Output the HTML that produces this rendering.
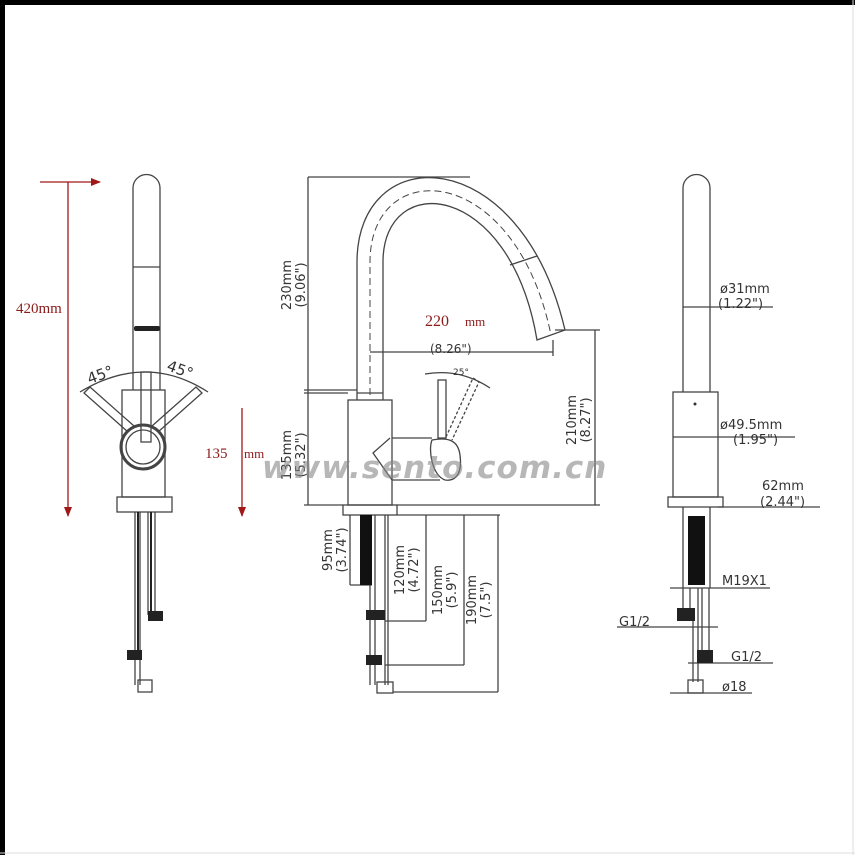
<!DOCTYPE html>
<html><head><meta charset="utf-8"><style>
html,body{margin:0;padding:0;background:#fff;}
svg{display:block;}
text{font-family:"DejaVu Sans","Liberation Sans",sans-serif;fill:#333;}
.r{font-family:"Liberation Serif",serif;fill:#8b1a1a;}
</style></head><body>
<svg width="855" height="855" viewBox="0 0 855 855" xmlns="http://www.w3.org/2000/svg">
<defs>
<marker id="ra" markerWidth="10" markerHeight="8" refX="9" refY="4" orient="auto" markerUnits="userSpaceOnUse"><path d="M0,0 L10,4 L0,8 Z" fill="#a01818"/></marker>
</defs>
<rect width="855" height="855" fill="#fff"/>
<rect x="0" y="0" width="855" height="5" fill="#000"/>
<rect x="0" y="0" width="5" height="855" fill="#000"/>
<line x1="853" y1="0" x2="853" y2="855" stroke="#ddd"/>
<line x1="0" y1="853" x2="855" y2="853" stroke="#ddd"/>

<g fill="none" stroke="#444" stroke-width="1.3">
<!-- LEFT VIEW -->
<path d="M133,390 V188 A13.5,13.5 0 0 1 160,188 V390"/>
<line x1="133" y1="267" x2="160" y2="267"/>
<rect x="122" y="390" width="43" height="107"/>
<rect x="117" y="497" width="55" height="15"/>
<circle cx="143" cy="447" r="22" stroke-width="3"/>
<circle cx="143" cy="447" r="17"/>
<rect x="141" y="372" width="10" height="70"/>
<path d="M128,432 L84,393 L90,387 L134,426"/>
<path d="M158,432 L202,393 L196,387 L152,426"/>
<path d="M80,392 Q146,352 208,392"/>
<line x1="135" y1="512" x2="135" y2="685"/><line x1="140" y1="512" x2="140" y2="685"/>
<line x1="148" y1="512" x2="148" y2="615"/><line x1="155" y1="512" x2="155" y2="615"/>
<rect x="138" y="680" width="14" height="12"/>
</g>
<rect x="134" y="326" width="26" height="5" rx="2" fill="#222"/>
<rect x="148" y="611" width="15" height="10" fill="#222"/>
<rect x="127" y="650" width="15" height="10" fill="#222"/>
<line x1="138" y1="512" x2="138" y2="650" stroke="#222" stroke-width="2"/>
<line x1="151" y1="512" x2="151" y2="612" stroke="#222" stroke-width="2"/>
<text x="87" y="380" font-size="15" transform="rotate(-20 100 375)">45°</text>
<text x="165" y="375" font-size="15" transform="rotate(20 180 375)">45°</text>

<!-- red dims -->
<line x1="40" y1="182" x2="100" y2="182" stroke="#a01818" stroke-width="1.3" marker-end="url(#ra)"/>
<line x1="68" y1="182" x2="68" y2="516" stroke="#a01818" stroke-width="1.3" marker-end="url(#ra)"/>
<text class="r" x="16" y="313" font-size="15">420mm</text>
<line x1="242" y1="408" x2="242" y2="516" stroke="#a01818" stroke-width="1.3" marker-end="url(#ra)"/>
<text class="r" x="205" y="458" font-size="15">135</text>
<text class="r" x="244" y="458" font-size="13">mm</text>

<!-- MIDDLE VIEW -->
<g fill="none" stroke="#444" stroke-width="1.3">
<line x1="308" y1="177" x2="470" y2="177"/>
<line x1="308" y1="177" x2="308" y2="505"/>
<line x1="304" y1="390" x2="357" y2="390"/>
<line x1="304" y1="393" x2="348" y2="393"/>
<path d="M357,400 V262 C357,140 520,140 565,330 L537,340 C510,180 383,170 383,262 V400"/>
<path d="M370,395 V262 C370,155 515,160 551,335" stroke-dasharray="7,4" stroke-width="1"/>
<line x1="510" y1="265" x2="537" y2="256"/>
<rect x="348" y="400" width="44" height="105"/>
<line x1="357" y1="393" x2="383" y2="393"/>
<path d="M392,438 H432 M390,438 L373,453 L392,480 H440"/>
<path d="M432,440 C428,450 432,475 445,480 C458,482 462,470 460,455 C458,440 448,437 432,440 Z"/>
<rect x="438" y="380" width="8" height="58"/>
<path d="M446,437 L473,378 L479,382 L452,440" stroke-dasharray="3,2"/>
<path d="M425,374 Q460,368 490,388"/>
<rect x="343" y="505" width="54" height="10"/>
<line x1="304" y1="505" x2="343" y2="505"/>
<line x1="397" y1="515" x2="500" y2="515"/>
<line x1="397" y1="505" x2="600" y2="505"/>
<line x1="555" y1="330" x2="600" y2="330"/>
<line x1="595" y1="330" x2="595" y2="505"/>
<line x1="370" y1="352" x2="553" y2="352"/>
<line x1="553" y1="340" x2="553" y2="356"/>
<line x1="350" y1="515" x2="350" y2="585"/>
<line x1="350" y1="585" x2="372" y2="585"/>
<line x1="370" y1="585" x2="370" y2="685"/><line x1="375" y1="515" x2="375" y2="685"/>
<line x1="385" y1="515" x2="385" y2="685"/><line x1="388" y1="515" x2="388" y2="685"/>
<rect x="377" y="682" width="16" height="11"/>
<line x1="385" y1="621" x2="426" y2="621"/>
<line x1="426" y1="515" x2="426" y2="621"/>
<line x1="385" y1="665" x2="464" y2="665"/>
<line x1="464" y1="515" x2="464" y2="665"/>
<line x1="393" y1="692" x2="498" y2="692"/>
<line x1="498" y1="515" x2="498" y2="692"/>
</g>
<rect x="360" y="515" width="12" height="70" fill="#111"/>
<rect x="366" y="610" width="19" height="10" fill="#222"/>
<rect x="366" y="655" width="16" height="10" fill="#222"/>
<text class="r" x="425" y="326" font-size="16">220</text>
<text class="r" x="465" y="326" font-size="13">mm</text>
<text x="430" y="353" font-size="12">(8.26")</text>
<text x="453" y="375" font-size="9">25°</text>
<g font-size="13">
<text transform="translate(291,285) rotate(-90)" text-anchor="middle">230mm</text>
<text transform="translate(305,285) rotate(-90)" text-anchor="middle">(9.06")</text>
<text transform="translate(291,455) rotate(-90)" text-anchor="middle">135mm</text>
<text transform="translate(305,455) rotate(-90)" text-anchor="middle">(5.32")</text>
<text transform="translate(576,420) rotate(-90)" text-anchor="middle">210mm</text>
<text transform="translate(590,420) rotate(-90)" text-anchor="middle">(8.27")</text>
<text transform="translate(332,550) rotate(-90)" text-anchor="middle">95mm</text>
<text transform="translate(346,550) rotate(-90)" text-anchor="middle">(3.74")</text>
<text transform="translate(404,570) rotate(-90)" text-anchor="middle">120mm</text>
<text transform="translate(418,570) rotate(-90)" text-anchor="middle">(4.72")</text>
<text transform="translate(442,590) rotate(-90)" text-anchor="middle">150mm</text>
<text transform="translate(456,590) rotate(-90)" text-anchor="middle">(5.9")</text>
<text transform="translate(476,600) rotate(-90)" text-anchor="middle">190mm</text>
<text transform="translate(490,600) rotate(-90)" text-anchor="middle">(7.5")</text>
</g>
<text x="262" y="478" font-size="31" font-weight="bold" font-style="italic" style="fill:#888;opacity:0.6" letter-spacing="1">www.sento.com.cn</text>

<!-- RIGHT VIEW -->
<g fill="none" stroke="#444" stroke-width="1.3">
<path d="M683,392 V188 A13.5,13.5 0 0 1 710,188 V392"/>
<rect x="673" y="392" width="45" height="105"/>
<rect x="668" y="497" width="55" height="10"/>
<line x1="683" y1="507" x2="683" y2="588"/><line x1="710" y1="507" x2="710" y2="588"/>
<line x1="683" y1="588" x2="683" y2="610"/><line x1="690" y1="588" x2="690" y2="610"/>
<line x1="693" y1="620" x2="693" y2="682"/><line x1="698" y1="588" x2="698" y2="682"/>
<line x1="702" y1="588" x2="702" y2="650"/><line x1="709" y1="588" x2="709" y2="650"/>
<rect x="688" y="680" width="15" height="13"/>
<line x1="683" y1="307" x2="773" y2="307"/>
<line x1="673" y1="437" x2="795" y2="437"/>
<line x1="718" y1="507" x2="820" y2="507"/>
<line x1="670" y1="588" x2="770" y2="588"/>
<line x1="617" y1="627" x2="718" y2="627"/>
<line x1="688" y1="663" x2="773" y2="663"/>
<line x1="670" y1="693" x2="752" y2="693"/>
</g>
<circle cx="695" cy="404" r="1.5" fill="#333"/>
<rect x="688" y="516" width="17" height="69" fill="#111"/>
<rect x="677" y="608" width="18" height="13" fill="#222"/>
<rect x="697" y="650" width="16" height="13" fill="#222"/>
<g font-size="13">
<text x="720" y="293">ø31mm</text><text x="718" y="308">(1.22")</text>
<text x="720" y="429">ø49.5mm</text><text x="733" y="444">(1.95")</text>
<text x="762" y="490">62mm</text><text x="760" y="506">(2.44")</text>
<text x="722" y="585">M19X1</text>
<text x="619" y="626">G1/2</text>
<text x="731" y="661">G1/2</text>
<text x="722" y="691">ø18</text>
</g>
</svg>
</body></html>
